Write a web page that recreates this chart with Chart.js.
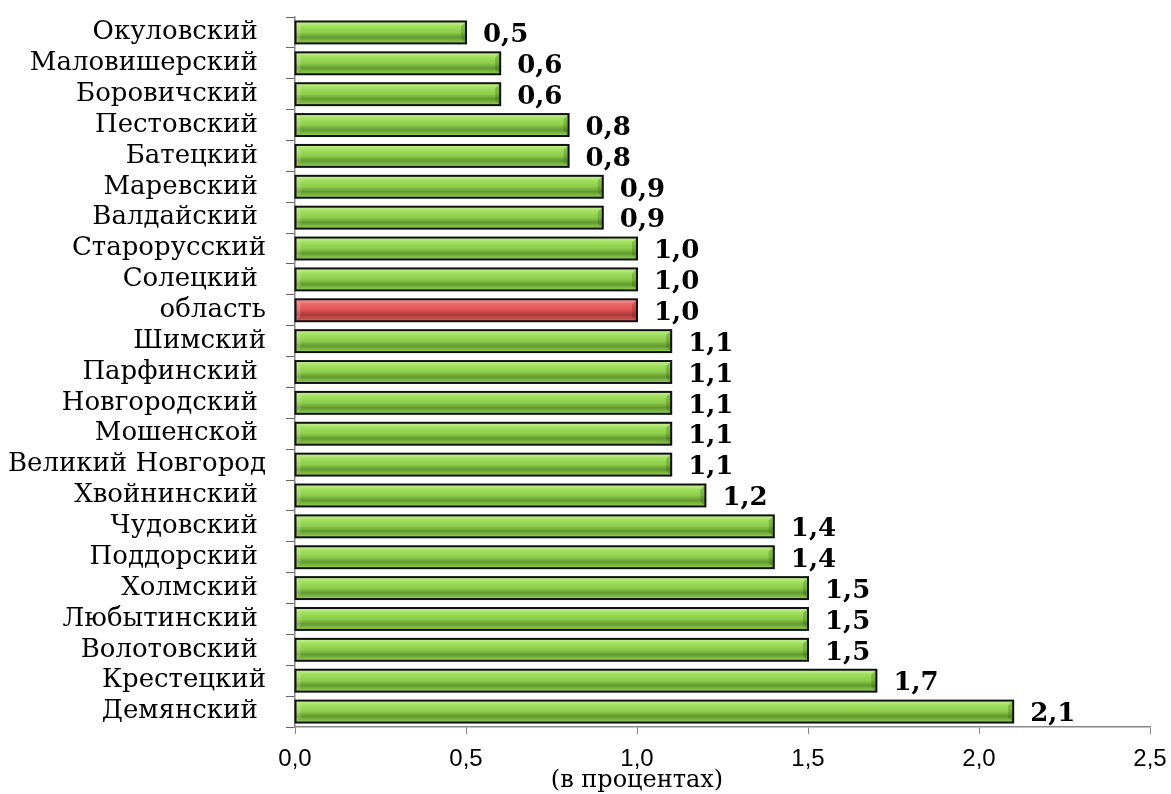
<!DOCTYPE html>
<html>
<head>
<meta charset="utf-8">
<script src="https://cdn.jsdelivr.net/npm/chart.js@4/dist/chart.umd.min.js"></script>
<style>
  body { margin: 0; background: #fff; }
  canvas { display: block; }
</style>
</head>
<body>
<canvas id="chart" width="1171" height="794"></canvas>
<script>
// районы (trailing spaces kept as in the source labels)
const districts = [
  "Окуловский ", "Маловишерский ", "Боровичский ", "Пестовский ", "Батецкий ",
  "Маревский ", "Валдайский ", "Старорусский", "Солецкий ", "область",
  "Шимский", "Парфинский ", "Новгородский ", "Мошенской ", "Великий Новгород",
  "Хвойнинский ", "Чудовский ", "Поддорский ", "Холмский ", "Любытинский ",
  "Волотовский ", "Крестецкий", "Демянский "
]
const shares = [
  0.5, 0.6, 0.6, 0.8, 0.8,
  0.9, 0.9, 1.0, 1.0, 1.0,
  1.1, 1.1, 1.1, 1.1, 1.1,
  1.2, 1.4, 1.4, 1.5, 1.5,
  1.5, 1.7, 2.1
]
const highlight = "область"
const axisTitle = "(в процентах)"

const fmt = v => v.toFixed(1).replace(".", ",")

// bevelled bars + value labels, drawn at the positions the bar elements got from the scales
const bevelBars = {
  id: "bevelBars",
  afterDatasetsDraw(chart) {
    const ctx = chart.ctx
    const meta = chart.getDatasetMeta(0)
    meta.data.forEach((bar, i) => {
      const red = districts[i] === highlight
      const x0 = bar.base, x1 = bar.x
      const y0 = bar.y - bar.height / 2, y1 = bar.y + bar.height / 2
      const h = y1 - y0, b = 5

      const g = ctx.createLinearGradient(0, y0, 0, y1)
      if (red) {
        g.addColorStop(0, "#f8a8a8")
        g.addColorStop(0.2, "#ec6a6a")
        g.addColorStop(0.5, "#dc5050")
        g.addColorStop(0.72, "#a83838")
        g.addColorStop(1, "#e26060")
      } else {
        g.addColorStop(0, "#cbf59c")
        g.addColorStop(0.2, "#a2e060")
        g.addColorStop(0.5, "#8ccc4a")
        g.addColorStop(0.72, "#62992f")
        g.addColorStop(1, "#96d452")
      }
      ctx.save()
      ctx.fillStyle = g
      ctx.fillRect(x0, y0, x1 - x0, h)

      // end bevels
      ctx.fillStyle = red ? "rgba(120,20,20,0.25)" : "rgba(40,80,10,0.25)"
      ctx.beginPath()
      ctx.moveTo(x1, y0); ctx.lineTo(x1 - b, y0 + b); ctx.lineTo(x1 - b, y1 - b); ctx.lineTo(x1, y1)
      ctx.closePath(); ctx.fill()
      ctx.fillStyle = "rgba(255,255,255,0.18)"
      ctx.beginPath()
      ctx.moveTo(x0, y0); ctx.lineTo(x0 + b, y0 + b); ctx.lineTo(x0 + b, y1 - b); ctx.lineTo(x0, y1)
      ctx.closePath(); ctx.fill()

      ctx.strokeStyle = "#111"
      ctx.lineWidth = 2
      ctx.strokeRect(x0, y0, x1 - x0, h)

      ctx.fillStyle = "#000"
      ctx.font = "bold 26px 'DejaVu Serif'"
      ctx.textAlign = "left"
      ctx.textBaseline = "middle"
      ctx.fillText(fmt(shares[i]), x1 + 17, bar.y + 3)
      ctx.restore()
    })

    // axis caption, centred under the 1,0 mark as in the source
    const xs = chart.scales.x
    ctx.save()
    ctx.fillStyle = "#000"
    ctx.font = "24px 'DejaVu Serif'"
    ctx.textAlign = "center"
    ctx.textBaseline = "bottom"
    ctx.fillText(axisTitle, xs.getPixelForValue(1.0), 793)
    ctx.restore()
  }
}

new Chart(document.getElementById("chart"), {
  type: "bar",
  data: {
    labels: districts,
    datasets: [{
      data: shares,
      backgroundColor: "rgba(0,0,0,0)",
      borderWidth: 0,
      barPercentage: 0.71,
      categoryPercentage: 1
    }]
  },
  options: {
    indexAxis: "y",
    responsive: false,
    animation: false,
    layout: { padding: { top: 17, right: 21, left: 0, bottom: 0 } },
    plugins: { legend: { display: false }, tooltip: { enabled: false } },
    scales: {
      y: {
        afterFit: s => { s.width = 295; s.paddingTop = 0; s.paddingBottom = 0 },
        grid: { drawOnChartArea: false, tickLength: 9, color: "#666" },
        border: { color: "#888", width: 1.5 },
        ticks: {
          autoSkip: false,
          color: "#000",
          padding: 20,
          font: { family: "DejaVu Serif", size: 26 }
        }
      },
      x: {
        min: 0,
        max: 2.5,
        afterFit: s => { s.height = 67; s.paddingLeft = 0; s.paddingRight = 0 },
        grid: { drawOnChartArea: false, tickLength: 7, color: "#888" },
        border: { color: "#888", width: 1.5 },
        ticks: {
          stepSize: 0.5,
          color: "#000",
          padding: 11,
          font: { family: "Liberation Sans", size: 24 },
          callback: v => fmt(v)
        }
      }
    }
  },
  plugins: [bevelBars]
})
</script>
</body>
</html>
